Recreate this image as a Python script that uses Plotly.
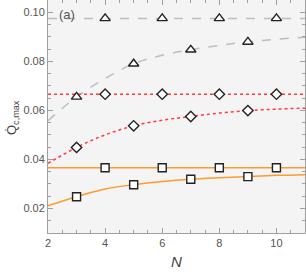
import plotly.graph_objects as go

# Data
N_curve = [2, 3, 4, 5, 6, 7, 8, 9, 10, 11]
gray_curve = [0.0558, 0.0655, 0.0730, 0.0790, 0.0825, 0.0847, 0.0865, 0.0879, 0.0890, 0.0898]
red_curve = [0.0384, 0.0449, 0.0500, 0.0537, 0.0560, 0.0575, 0.0589, 0.0599, 0.0605, 0.0609]
orange_curve = [0.0211, 0.0248, 0.0279, 0.0297, 0.0310, 0.0319, 0.0325, 0.0330, 0.0335, 0.0338]

N_line = [2, 11]
gray_level = 0.0975
red_level = 0.0666
orange_level = 0.0366

N_odd = [3, 5, 7, 9]
tri_odd = [0.0655, 0.0790, 0.0847, 0.0879]
dia_odd = [0.0449, 0.0537, 0.0575, 0.0599]
sq_odd = [0.0248, 0.0297, 0.0319, 0.0330]

N_even = [4, 6, 8, 10]

x_ticks = [2, 4, 6, 8, 10]
y_ticks = [0.02, 0.04, 0.06, 0.08, 0.10]
y_ticktext = ["0.02", "0.04", "0.06", "0.08", "0.10"]

GRAY = "#bdbdbd"
RED = "#ff3b3b"
ORANGE = "#ff9a2e"
MK = "#222222"
FONT = "Liberation Sans, Arial, sans-serif"

fig = go.Figure()

def line(x, y, color, dash):
    fig.add_trace(go.Scatter(x=x, y=y, mode="lines", line=dict(color=color, width=1.5, dash=dash, shape="spline"),
                             showlegend=False, hoverinfo="skip"))

line(N_curve, gray_curve, GRAY, "dash")
line(N_line, [gray_level] * 2, GRAY, "dash")
line(N_curve, red_curve, RED, "dot")
line(N_line, [red_level] * 2, RED, "dot")
line(N_curve, orange_curve, ORANGE, "solid")
line(N_line, [orange_level] * 2, ORANGE, "solid")

def markers(x, y, symbol, size):
    fig.add_trace(go.Scatter(x=x, y=y, mode="markers",
                             marker=dict(symbol=symbol, size=size, color="white", line=dict(color=MK, width=1.4)),
                             showlegend=False, hoverinfo="skip"))

markers(N_odd, tri_odd, "triangle-up", 9)
markers(N_even, [gray_level] * 4, "triangle-up", 9)
markers(N_odd, dia_odd, "diamond", 8)
markers(N_even, [red_level] * 4, "diamond", 8)
markers(N_odd, sq_odd, "square", 8)
markers(N_even, [orange_level] * 4, "square", 8)

axis_common = dict(
    showgrid=False, zeroline=False, showline=True, linecolor="#a0a0a0", linewidth=1,
    mirror="allticks", ticks="inside", ticklen=5, tickcolor="#a0a0a0", tickwidth=1,
    tickfont=dict(family=FONT, size=11, color="#555555"), automargin=False,
)

plot_h = 272 - 0 - 39
plot_w = 306 - 48 - 1

fig.update_layout(
    width=306, height=272,
    margin=dict(l=48, r=1, t=0, b=39),
    paper_bgcolor="white", plot_bgcolor="#f4f4f4",
    xaxis=dict(range=[2, 11], tickvals=x_ticks, ticktext=[str(v) for v in x_ticks],
               minor=dict(dtick=0.5, ticklen=3, ticks="inside", tickcolor="#a0a0a0"),
               **axis_common),
    yaxis=dict(range=[0.01, 0.105], tickvals=y_ticks, ticktext=y_ticktext,
               minor=dict(dtick=0.005, tick0=0, ticklen=3, ticks="inside", tickcolor="#a0a0a0"),
               **axis_common),
    annotations=[
        dict(x=2.33, y=0.0992, xref="x", yref="y", text="(a)", showarrow=False, xanchor="left",
             font=dict(family=FONT, size=13, color="#555555")),
        dict(x=(176 - 48) / plot_w, y=(233 - 261) / plot_h, xref="paper", yref="paper", text="<i>N</i>",
             showarrow=False, xanchor="center", yanchor="middle",
             font=dict(family=FONT, size=15, color="#444444")),
        dict(x=(12 - 48) / plot_w, y=(233 - 118) / plot_h, xref="paper", yref="paper",
             text="Q\u0307<sub>c,max</sub>", showarrow=False, textangle=-90,
             xanchor="center", yanchor="middle",
             font=dict(family=FONT, size=13, color="#444444")),
    ],
)

fig.write_html("out.html", config={"displayModeBar": False},
               post_script="document.body.style.margin='0';")
